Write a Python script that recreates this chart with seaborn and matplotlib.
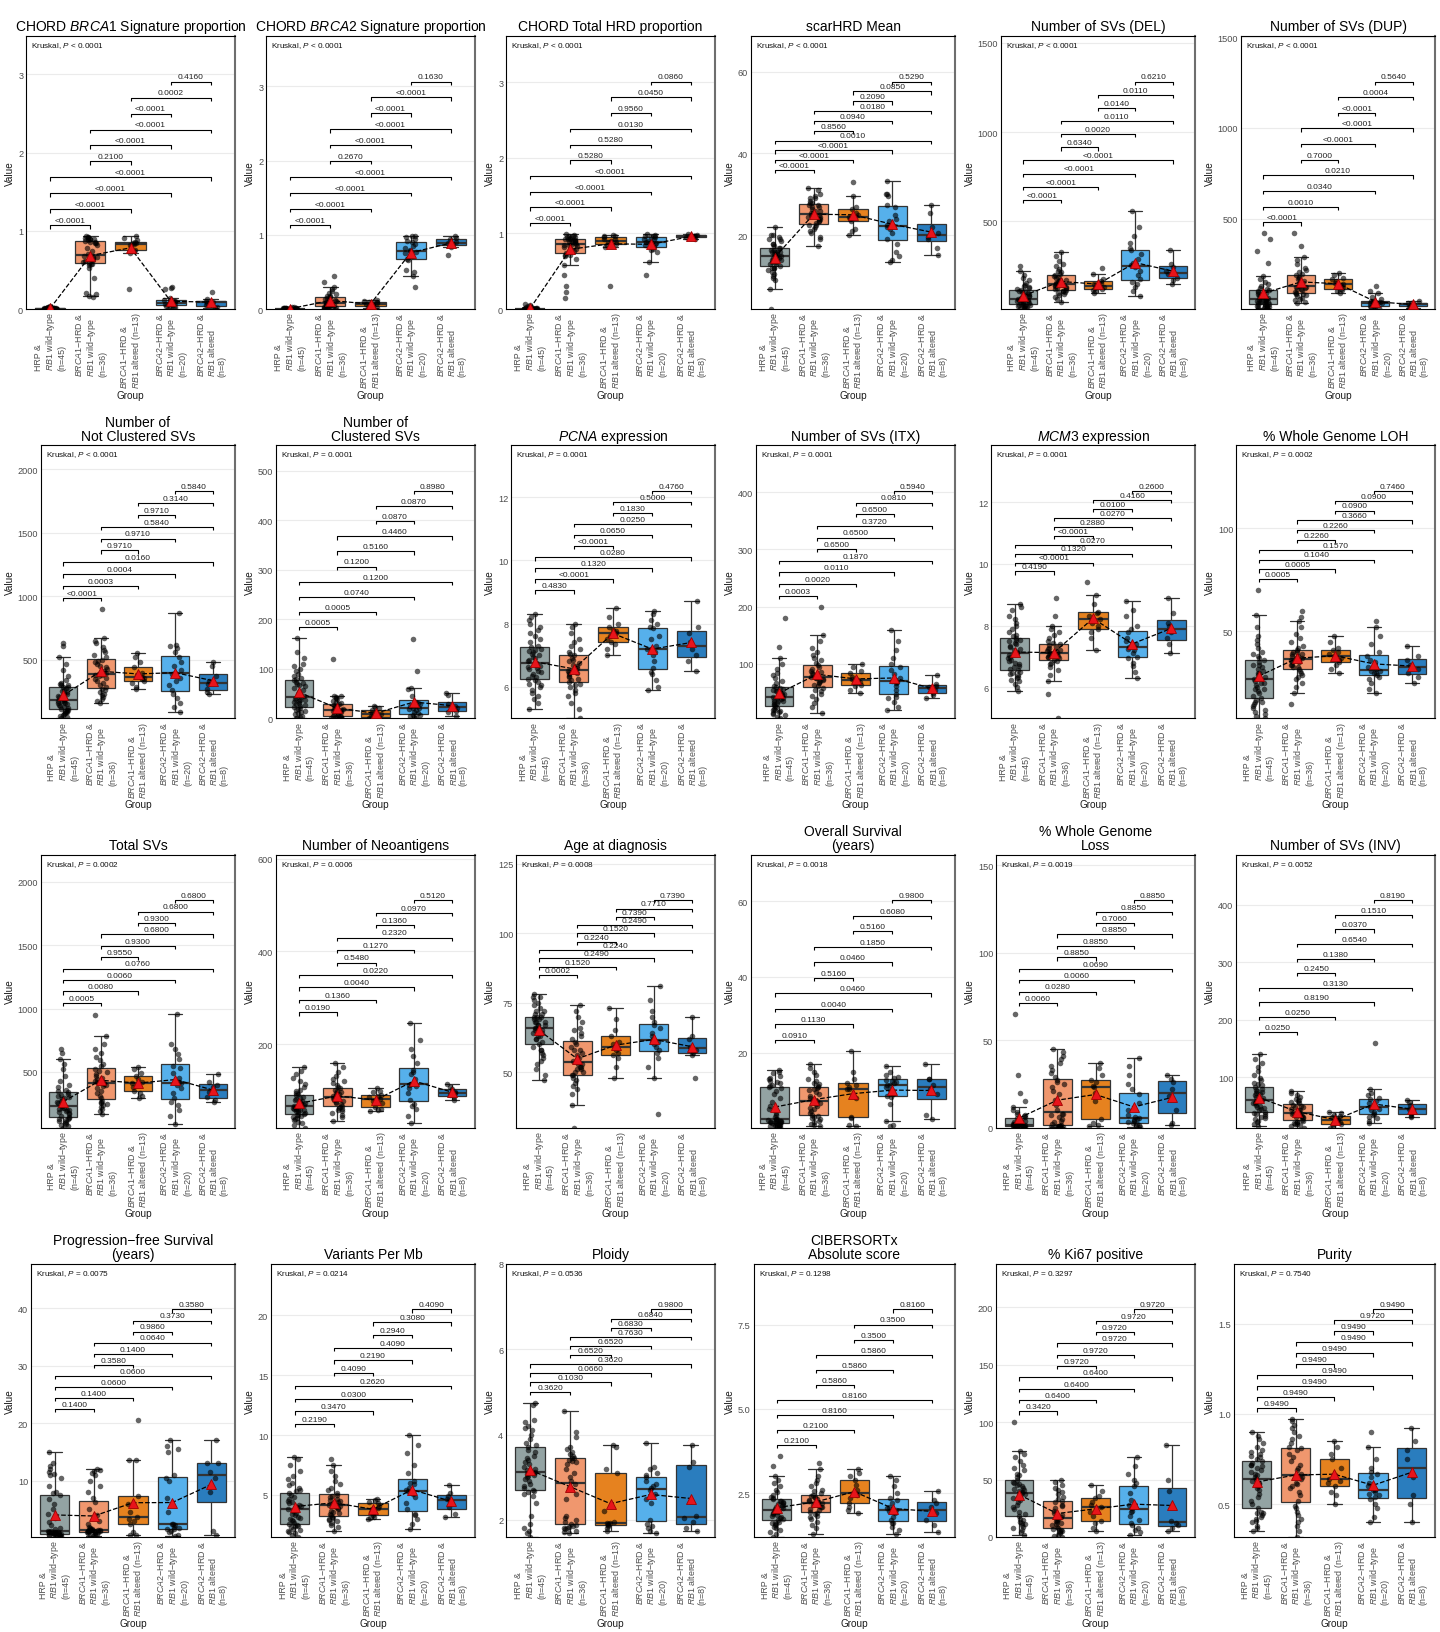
import numpy as np
import pandas as pd
import matplotlib
matplotlib.use("Agg")
import matplotlib.pyplot as plt
import seaborn as sns

np.random.seed(7)

# ---- groups -------------------------------------------------------------
group_keys = ["HRP_wt", "BRCA1_wt", "BRCA1_alt", "BRCA2_wt", "BRCA2_alt"]
group_sizes = [45, 36, 13, 20, 8]
group_labels = [
    "HRP &\n$\\it{RB1}$ wild\u2212type\n(n=45)",
    "$\\it{BRCA1}$\u2212HRD &\n$\\it{RB1}$ wild\u2212type\n(n=36)",
    "$\\it{BRCA1}$\u2212HRD &\n$\\it{RB1}$ altered (n=13)",
    "$\\it{BRCA2}$\u2212HRD &\n$\\it{RB1}$ wild\u2212type\n(n=20)",
    "$\\it{BRCA2}$\u2212HRD &\n$\\it{RB1}$ altered\n(n=8)",
]
group_colors = ["#93A3A3", "#F0976E", "#E6821F", "#56B0EB", "#2A7DBE"]
pairs = [(0, 1), (0, 2), (0, 3), (0, 4), (1, 2), (1, 3), (1, 4), (2, 3), (2, 4), (3, 4)]

# ---- per-sample values (one list per group) ------------------------------
chord_brca1 = [
    [0.000, 0.002, 0.001, 0.004, 0.000, 0.003, 0.006, 0.001, 0.000, 0.005,
     0.002, 0.008, 0.000, 0.004, 0.010, 0.001, 0.003, 0.007, 0.000, 0.012,
     0.002, 0.005, 0.015, 0.001, 0.009, 0.000, 0.004, 0.018, 0.003, 0.006,
     0.011, 0.000, 0.002, 0.022, 0.008, 0.001, 0.014, 0.005, 0.025, 0.003,
     0.000, 0.030, 0.007, 0.020, 0.035],
    [0.15, 0.17, 0.19, 0.20, 0.40, 0.52, 0.56, 0.57, 0.58, 0.59,
     0.60, 0.62, 0.63, 0.64, 0.65, 0.66, 0.67, 0.68, 0.70, 0.74,
     0.78, 0.82, 0.84, 0.85, 0.86, 0.86, 0.87, 0.88, 0.89, 0.90,
     0.90, 0.91, 0.91, 0.92, 0.92, 0.93],
    [0.25, 0.72, 0.74, 0.75, 0.79, 0.82, 0.83, 0.84, 0.85, 0.86, 0.88, 0.91, 0.93],
    [0.00, 0.01, 0.02, 0.03, 0.04, 0.05, 0.06, 0.07, 0.08, 0.08,
     0.08, 0.09, 0.10, 0.10, 0.11, 0.12, 0.14, 0.26, 0.27, 0.28],
    [0.01, 0.02, 0.05, 0.08, 0.09, 0.10, 0.13, 0.22],
]
chord_brca2 = [
    [0.001, 0.000, 0.003, 0.000, 0.002, 0.005, 0.000, 0.001, 0.004, 0.000,
     0.002, 0.006, 0.001, 0.000, 0.003, 0.008, 0.000, 0.002, 0.001, 0.010,
     0.000, 0.004, 0.002, 0.012, 0.001, 0.000, 0.003, 0.006, 0.015, 0.000,
     0.002, 0.001, 0.009, 0.000, 0.004, 0.018, 0.002, 0.000, 0.007, 0.001,
     0.011, 0.000, 0.025, 0.003, 0.030],
    [0.00, 0.00, 0.01, 0.01, 0.02, 0.02, 0.02, 0.03, 0.03, 0.04,
     0.04, 0.05, 0.05, 0.06, 0.06, 0.06, 0.07, 0.07, 0.08, 0.09,
     0.10, 0.11, 0.12, 0.13, 0.14, 0.15, 0.16, 0.17, 0.18, 0.20,
     0.22, 0.24, 0.27, 0.30, 0.37, 0.44],
    [0.01, 0.02, 0.03, 0.04, 0.05, 0.06, 0.07, 0.08, 0.09, 0.10, 0.10, 0.11, 0.12],
    [0.29, 0.45, 0.50, 0.53, 0.66, 0.68, 0.72, 0.75, 0.77, 0.78,
     0.79, 0.82, 0.85, 0.88, 0.90, 0.91, 0.95, 0.97, 0.98, 0.99],
    [0.73, 0.84, 0.87, 0.89, 0.90, 0.94, 0.96, 0.98],
]
chord_hrd = [
    [0.000, 0.001, 0.000, 0.002, 0.000, 0.004, 0.001, 0.000, 0.003, 0.000,
     0.002, 0.005, 0.000, 0.001, 0.007, 0.000, 0.003, 0.002, 0.000, 0.009,
     0.001, 0.000, 0.004, 0.012, 0.000, 0.002, 0.006, 0.001, 0.000, 0.015,
     0.003, 0.000, 0.008, 0.002, 0.020, 0.001, 0.000, 0.005, 0.030, 0.002,
     0.010, 0.040, 0.001, 0.050, 0.060],
    [0.15, 0.22, 0.30, 0.45, 0.58, 0.66, 0.70, 0.72, 0.72, 0.74,
     0.77, 0.79, 0.80, 0.82, 0.83, 0.84, 0.85, 0.85, 0.86, 0.87,
     0.88, 0.89, 0.90, 0.90, 0.91, 0.91, 0.92, 0.93, 0.93, 0.94,
     0.95, 0.95, 0.96, 0.97, 0.98, 0.99],
    [0.30, 0.82, 0.85, 0.86, 0.88, 0.89, 0.90, 0.92, 0.93, 0.95, 0.96, 0.97, 0.98],
    [0.45, 0.62, 0.75, 0.78, 0.80, 0.82, 0.84, 0.86, 0.87, 0.88,
     0.88, 0.90, 0.92, 0.93, 0.95, 0.95, 0.96, 0.97, 0.98, 0.99],
    [0.92, 0.94, 0.95, 0.96, 0.96, 0.97, 0.98, 0.99],
]
scarhrd = [
    [2, 7, 9, 9.5, 10, 10.5, 11, 11.5, 12, 12,
     12, 12.5, 13, 13, 13.5, 13.5, 14, 14, 14, 14.5,
     14.5, 14.5, 15, 15, 15, 15.5, 15.5, 16, 16, 16,
     16, 16.5, 16.5, 17, 17, 17.5, 18, 18, 18.5, 19,
     19, 19.5, 20, 20, 22],
    [17.5, 19, 19.5, 20.5, 21, 21.5, 22, 22.5, 22.5, 23,
     23.5, 23.5, 24, 24, 24.5, 24.5, 25, 25, 25.5, 25.5,
     26, 26, 26.5, 27, 27, 27.5, 27.5, 28, 28, 28.5,
     29, 29, 29.5, 30, 31, 31.5],
    [20, 21, 21.5, 23.5, 24, 24.2, 24.5, 25, 25.5, 26.5, 27, 29.5, 33],
    [13.5, 14, 15, 16, 18, 19, 20.5, 21.5, 22, 22.3,
     22.5, 23.5, 24, 25, 27, 27.5, 29.5, 30, 30, 33.3],
    [15.2, 17, 19, 19.5, 20.5, 22, 25.5, 27.5],
]
sv_del = [
    [10, 14, 18, 20, 22, 25, 28, 30, 32, 34,
     35, 38, 42, 45, 48, 52, 55, 58, 60, 62,
     64, 65, 68, 72, 76, 80, 85, 90, 95, 100,
     104, 108, 110, 115, 120, 128, 135, 140, 145, 155,
     170, 185, 200, 220, 250],
    [50, 65, 78, 88, 95, 100, 105, 108, 110, 115,
     120, 125, 130, 135, 140, 143, 147, 150, 155, 160,
     165, 170, 175, 182, 188, 194, 200, 208, 215, 225,
     235, 248, 262, 280, 305, 330],
    [100, 108, 115, 120, 130, 135, 140, 148, 155, 165, 180, 205, 240],
    [80, 110, 135, 150, 160, 180, 200, 225, 245, 250,
     255, 270, 290, 320, 340, 350, 380, 420, 470, 560],
    [150, 170, 185, 205, 220, 245, 260, 340],
]
sv_dup = [
    [5, 6, 8, 10, 12, 15, 18, 20, 22, 25,
     28, 32, 34, 36, 38, 40, 42, 45, 48, 50,
     52, 54, 56, 60, 64, 68, 72, 76, 80, 85,
     90, 95, 100, 105, 112, 120, 130, 140, 150, 165,
     184, 257, 320, 390, 420],
    [35, 42, 50, 58, 65, 72, 78, 83, 87, 92,
     98, 104, 110, 115, 119, 123, 126, 129, 133, 140,
     146, 152, 158, 165, 172, 180, 190, 196, 205, 215,
     230, 250, 270, 290, 350, 420],
    [90, 100, 108, 115, 125, 132, 139, 145, 155, 165, 175, 190, 200],
    [2, 5, 8, 12, 16, 20, 25, 30, 34, 37,
     38, 40, 42, 44, 46, 55, 70, 90, 100, 130],
    [10, 15, 20, 25, 30, 33, 37, 45],
]
sv_not_clustered = [
    [40, 50, 60, 65, 72, 80, 86, 92, 98, 102,
     104, 110, 120, 130, 138, 145, 152, 158, 164, 170,
     175, 178, 185, 195, 205, 215, 225, 235, 245, 255,
     265, 275, 284, 290, 300, 305, 310, 320, 340, 370,
     420, 470, 521, 610, 630],
    [160, 175, 190, 205, 220, 235, 250, 260, 268, 285,
     300, 320, 335, 350, 360, 370, 378, 383, 395, 410,
     425, 440, 455, 465, 480, 490, 500, 520, 540, 560,
     580, 600, 630, 650, 670, 900],
    [270, 285, 320, 335, 350, 360, 365, 380, 400, 445, 480, 520, 550],
    [90, 130, 160, 200, 235, 260, 300, 330, 360, 390,
     400, 420, 450, 480, 525, 560, 590, 610, 620, 870],
    [230, 250, 270, 310, 330, 370, 450, 480],
]
sv_clustered = [
    [0, 0, 2, 5, 8, 10, 12, 14, 16, 18,
     20, 22, 25, 27, 29, 31, 33, 35, 36, 37,
     38, 40, 43, 46, 50, 54, 58, 62, 65, 68,
     70, 72, 74, 78, 80, 82, 85, 90, 95, 100,
     105, 110, 122, 133, 162],
    [0, 0, 0, 1, 1, 2, 2, 3, 3, 5,
     7, 9, 10, 12, 13, 14, 15, 16, 17, 18,
     19, 20, 22, 24, 25, 27, 28, 30, 32, 35,
     38, 40, 42, 44, 45, 120],
    [0, 1, 2, 3, 5, 7, 8, 10, 13, 17, 20, 22, 24],
    [0, 2, 4, 6, 7, 10, 13, 16, 19, 20,
     21, 24, 28, 31, 33, 45, 60, 62, 95, 160],
    [5, 12, 15, 20, 24, 28, 48, 52],
]
pcna_expr = [
    [5.3, 5.5, 5.6, 5.7, 5.8, 5.9, 6.0, 6.05, 6.1, 6.15,
     6.2, 6.25, 6.3, 6.35, 6.4, 6.45, 6.5, 6.55, 6.6, 6.62,
     6.65, 6.7, 6.75, 6.8, 6.85, 6.9, 6.95, 7.0, 7.05, 7.1,
     7.12, 7.15, 7.2, 7.25, 7.3, 7.4, 7.5, 7.6, 7.7, 7.8,
     7.9, 8.0, 8.1, 8.2, 8.3],
    [5.0, 5.3, 5.5, 5.7, 5.8, 5.9, 6.0, 6.05, 6.1, 6.15,
     6.2, 6.25, 6.3, 6.35, 6.4, 6.42, 6.46, 6.5, 6.55, 6.6,
     6.65, 6.7, 6.75, 6.8, 6.85, 6.9, 7.0, 7.05, 7.1, 7.2,
     7.3, 7.4, 7.5, 7.7, 7.9, 8.0],
    [7.0, 7.2, 7.35, 7.4, 7.5, 7.6, 7.7, 7.75, 7.8, 7.9, 8.0, 8.2, 8.5],
    [5.9, 6.0, 6.2, 6.4, 6.45, 6.6, 6.8, 7.0, 7.1, 7.2,
     7.2, 7.3, 7.5, 7.6, 7.85, 7.9, 8.0, 8.1, 8.3, 8.4],
    [6.5, 6.8, 7.0, 7.2, 7.4, 7.7, 7.9, 8.7],
]
sv_itx = [
    [5, 8, 10, 12, 14, 16, 18, 19, 20, 22,
     24, 26, 28, 30, 31, 33, 35, 36, 37, 38,
     40, 41, 42, 44, 45, 47, 48, 50, 52, 53,
     55, 56, 58, 60, 62, 66, 70, 75, 80, 85,
     92, 100, 110, 130, 180],
    [15, 25, 32, 38, 44, 48, 52, 55, 58, 61,
     64, 66, 68, 70, 72, 73, 75, 76, 78, 80,
     82, 84, 86, 88, 91, 95, 98, 102, 106, 110,
     115, 120, 128, 140, 150, 200],
    [50, 55, 61, 64, 68, 70, 72, 74, 78, 85, 88, 95, 100],
    [20, 25, 33, 40, 43, 48, 55, 62, 67, 69,
     70, 75, 82, 90, 95, 100, 110, 125, 140, 160],
    [40, 45, 50, 55, 60, 62, 65, 80],
]
mcm3_expr = [
    [5.9, 6.0, 6.1, 6.2, 6.25, 6.3, 6.35, 6.4, 6.45, 6.48,
     6.5, 6.55, 6.6, 6.65, 6.7, 6.75, 6.8, 6.85, 6.9, 6.95,
     7.0, 7.05, 7.1, 7.15, 7.2, 7.25, 7.3, 7.35, 7.4, 7.45,
     7.5, 7.52, 7.55, 7.6, 7.65, 7.7, 7.8, 7.9, 8.0, 8.1,
     8.2, 8.3, 8.5, 8.6, 8.7],
    [5.0, 5.8, 6.2, 6.4, 6.55, 6.65, 6.75, 6.8, 6.85, 6.9,
     6.95, 6.97, 7.0, 7.02, 7.05, 7.07, 7.08, 7.1, 7.12, 7.15,
     7.18, 7.2, 7.25, 7.28, 7.32, 7.36, 7.4, 7.45, 7.5, 7.6,
     7.7, 7.8, 7.9, 8.0, 8.3, 8.9],
    [7.2, 7.6, 7.8, 7.9, 8.0, 8.1, 8.2, 8.3, 8.4, 8.45, 8.7, 9.0, 9.4],
    [6.3, 6.5, 6.7, 6.8, 6.95, 7.0, 7.1, 7.2, 7.25, 7.3,
     7.3, 7.4, 7.5, 7.6, 7.8, 7.9, 8.0, 8.3, 8.5, 8.8],
    [7.1, 7.4, 7.6, 7.8, 8.0, 8.1, 8.4, 8.9],
]
wg_loh = [
    [8, 9, 10, 11, 12, 13, 14, 15, 16, 16,
     17, 18, 19, 20, 21, 22, 22, 23, 24, 25,
     25, 26, 27, 28, 29, 30, 30, 31, 32, 33,
     34, 34, 35, 36, 37, 38, 39, 40, 42, 44,
     46, 48, 52, 58, 70],
    [15, 20, 23, 25, 27, 28, 29, 30, 31, 32,
     33, 33, 34, 34, 35, 35, 36, 36, 37, 37,
     38, 38, 39, 39, 40, 40, 41, 42, 43, 45,
     47, 49, 52, 55, 57, 60],
    [30, 32, 34, 35, 36, 37, 38, 39, 40, 41, 42, 45, 48],
    [20, 22, 25, 27, 28, 29, 30, 30, 31, 31,
     32, 33, 35, 36, 38, 40, 44, 48, 52, 55],
    [25, 28, 30, 32, 34, 36, 38, 43],
]
sv_total = [
    [60, 70, 80, 88, 95, 102, 110, 118, 124, 130,
     135, 145, 155, 165, 172, 180, 188, 195, 200, 206,
     212, 218, 228, 240, 252, 262, 272, 282, 292, 300,
     310, 318, 326, 340, 350, 360, 380, 400, 430, 470,
     520, 560, 600, 650, 680],
    [170, 190, 205, 220, 235, 245, 255, 262, 268, 290,
     310, 330, 350, 370, 385, 395, 402, 410, 420, 430,
     440, 455, 465, 480, 495, 510, 525, 545, 565, 590,
     620, 650, 680, 720, 780, 950],
    [290, 310, 334, 350, 380, 395, 410, 420, 440, 467, 490, 520, 540],
    [90, 150, 200, 240, 260, 290, 330, 370, 400, 410,
     420, 450, 490, 530, 550, 600, 640, 680, 720, 960],
    [260, 280, 300, 340, 380, 400, 420, 480],
]
neoantigens = [
    [20, 25, 30, 33, 36, 39, 41, 43, 45, 47,
     48, 50, 52, 54, 55, 57, 58, 59, 60, 61,
     62, 64, 66, 68, 70, 72, 74, 76, 78, 80,
     82, 84, 86, 90, 92, 94, 98, 102, 108, 114,
     120, 128, 135, 142, 150],
    [35, 42, 48, 52, 55, 58, 60, 62, 64, 67,
     70, 73, 75, 77, 79, 81, 83, 84, 86, 88,
     90, 92, 94, 96, 99, 102, 105, 108, 112, 116,
     120, 125, 132, 140, 150, 160],
    [55, 57, 60, 65, 72, 78, 82, 85, 88, 91, 96, 100, 105],
    [30, 45, 60, 66, 70, 80, 95, 105, 110, 112,
     115, 125, 135, 140, 145, 160, 175, 190, 210, 245],
    [80, 85, 90, 94, 97, 103, 108, 115],
]
age_dx = [
    [47, 49, 51, 53, 54, 55, 56, 57, 58, 58,
     59, 60, 61, 62, 62, 63, 63, 64, 64, 65,
     65, 66, 66, 67, 67, 67, 68, 68, 68, 69,
     69, 70, 70, 70, 71, 71, 72, 72, 73, 74,
     75, 76, 77, 77, 78],
    [30, 38, 42, 44, 45, 46, 47, 48, 49, 49,
     50, 50, 51, 51, 52, 52, 53, 53, 54, 55,
     56, 57, 58, 58, 59, 60, 61, 62, 63, 64,
     65, 66, 68, 70, 72, 74],
    [48, 52, 55, 56, 57, 58, 59, 60, 61, 63, 65, 69, 73],
    [35, 48, 52, 55, 57, 58, 59, 60, 61, 61,
     62, 63, 64, 66, 67, 68, 70, 72, 76, 81],
    [48, 56, 57, 58, 59, 62, 63, 70],
]
os_years = [
    [0.2, 0.3, 0.4, 0.5, 0.6, 0.7, 0.8, 0.9, 1.0, 1.1,
     1.3, 1.4, 1.5, 1.6, 1.7, 1.8, 1.9, 2.0, 2.1, 2.2,
     2.3, 2.4, 2.6, 3.0, 3.5, 4.0, 5.0, 6.0, 7.0, 8.0,
     9.0, 9.8, 10.6, 11.0, 11.2, 11.5, 12.0, 12.3, 12.6, 13.0,
     13.3, 13.8, 14.5, 15.0, 15.5],
    [0.5, 0.8, 1.2, 1.6, 2.0, 2.4, 2.8, 3.1, 3.3, 3.6,
     4.0, 4.5, 5.0, 5.5, 6.0, 6.5, 6.8, 7.1, 7.5, 8.0,
     8.5, 9.0, 9.5, 10.0, 10.3, 10.6, 10.9, 11.2, 11.6, 12.0,
     12.5, 13.0, 14.0, 15.0, 16.0, 17.0],
    [0.5, 1.0, 2.7, 3.0, 8.0, 10.5, 10.5, 11.0, 11.5, 12.0, 13.0, 15.0, 20.5],
    [0.5, 1.0, 2.0, 6.5, 8.4, 8.6, 9.0, 10.0, 11.0, 11.5,
     11.5, 12.0, 12.3, 12.6, 12.9, 13.2, 13.5, 14.0, 15.0, 16.5],
    [2.5, 3.5, 9.0, 10.5, 11.5, 13.0, 13.0, 17.0],
]
wg_loss = [
    [0.0, 0.1, 0.2, 0.3, 0.3, 0.4, 0.4, 0.5, 0.5, 0.6,
     0.6, 0.7, 0.8, 0.9, 1.0, 1.0, 1.1, 1.2, 1.3, 1.4,
     1.5, 1.5, 1.7, 1.9, 2.1, 2.3, 2.6, 2.9, 3.2, 3.6,
     4.0, 4.5, 5.0, 5.5, 6.0, 6.5, 7.0, 8.0, 9.0, 10.0,
     12.0, 15.0, 20.0, 30.0, 65.0],
    [0.3, 0.5, 0.6, 0.7, 0.8, 0.9, 1.0, 1.1, 1.2, 1.5,
     2.0, 3.0, 4.0, 5.0, 6.0, 7.0, 7.5, 8.0, 10, 13,
     16, 19, 21, 23, 25, 26, 27, 29, 31, 33,
     35, 37, 39, 41, 43, 45],
    [1.0, 1.5, 2.4, 5, 15, 20, 23, 24, 26, 27, 30, 34, 37],
    [0.5, 0.8, 1.5, 2.0, 2.4, 3.0, 3.5, 4.5, 5.0, 5.4,
     5.8, 7.0, 10, 14, 19, 22, 25, 30, 35, 40],
    [1.5, 2.4, 10, 18, 22, 26, 28, 30],
]
sv_inv = [
    [15, 18, 21, 24, 27, 29, 31, 33, 35, 36,
     37, 40, 42, 44, 46, 48, 50, 52, 54, 55,
     57, 58, 60, 62, 64, 66, 68, 70, 72, 74,
     76, 78, 80, 83, 86, 88, 90, 94, 98, 103,
     110, 118, 125, 132, 140],
    [12, 14, 16, 18, 19, 20, 21, 22, 24, 26,
     28, 30, 31, 32, 33, 35, 36, 37, 38, 40,
     42, 43, 45, 47, 48, 50, 52, 54, 56, 58,
     60, 62, 65, 68, 72, 75],
    [12, 15, 18, 19, 21, 23, 25, 27, 30, 33, 34, 37, 40],
    [20, 24, 28, 31, 34, 36, 39, 42, 45, 47,
     48, 50, 54, 58, 61, 64, 68, 72, 80, 160],
    [30, 32, 36, 42, 45, 52, 56, 60],
]
pfs_years = [
    [0.2, 0.3, 0.35, 0.4, 0.45, 0.5, 0.55, 0.6, 0.62, 0.65,
     0.7, 0.75, 0.8, 0.85, 0.9, 0.92, 0.95, 1.0, 1.02, 1.05,
     1.08, 1.1, 1.2, 1.3, 1.5, 1.8, 2.2, 2.8, 3.5, 4.2,
     5.0, 6.0, 6.8, 7.5, 7.8, 8.0, 9.0, 10.5, 11.0, 11.2,
     11.5, 12.0, 12.5, 13.0, 15.0],
    [0.3, 0.5, 0.6, 0.7, 0.8, 0.9, 1.0, 1.05, 1.1, 1.15,
     1.2, 1.25, 1.3, 1.3, 1.35, 1.35, 1.4, 1.4, 1.5, 1.6,
     1.8, 2.0, 2.5, 3.0, 4.0, 5.0, 6.3, 7.0, 8.0, 9.0,
     10.0, 11.0, 11.3, 11.6, 11.8, 12.0],
    [0.5, 0.6, 1.0, 2.5, 3.0, 3.3, 3.6, 4.5, 6.0, 7.3, 13.5, 13.5, 20.6],
    [0.3, 0.6, 1.0, 1.2, 1.5, 1.6, 1.8, 2.0, 2.2, 2.4,
     2.5, 4.5, 7.0, 10.0, 10.5, 11.0, 15.0, 15.5, 16.0, 17.0],
    [0.5, 1.2, 8.0, 10.5, 11.5, 13.0, 13.0, 17.0],
]
variants_mb = [
    [1.5, 1.7, 1.8, 1.9, 2.0, 2.1, 2.2, 2.3, 2.4, 2.45,
     2.5, 2.6, 2.7, 2.8, 2.9, 3.0, 3.1, 3.2, 3.3, 3.4,
     3.5, 3.7, 3.8, 3.9, 4.0, 4.1, 4.2, 4.3, 4.4, 4.5,
     4.7, 4.8, 5.0, 5.2, 5.3, 5.4, 5.6, 5.8, 6.0, 6.3,
     6.6, 7.0, 7.5, 8.0, 8.2],
    [2.0, 2.3, 2.5, 2.7, 2.8, 2.9, 3.0, 3.1, 3.2, 3.3,
     3.4, 3.5, 3.6, 3.7, 3.8, 3.9, 4.0, 4.1, 4.2, 4.3,
     4.4, 4.5, 4.6, 4.7, 4.8, 4.9, 5.0, 5.2, 5.4, 5.6,
     5.9, 6.2, 6.6, 7.0, 7.5, 8.0],
    [3.0, 3.1, 3.2, 3.3, 3.5, 3.6, 3.8, 3.9, 4.1, 4.3, 4.4, 4.6, 4.7],
    [2.2, 2.6, 3.0, 3.3, 3.4, 3.8, 4.3, 4.8, 5.1, 5.3,
     5.4, 5.6, 5.9, 6.0, 6.2, 6.8, 7.5, 8.5, 9.2, 10.0],
    [3.2, 3.4, 4.0, 4.5, 4.7, 4.9, 5.2, 5.8],
]
ploidy = [
    [1.6, 1.7, 1.75, 1.8, 1.9, 2.1, 2.4, 2.55, 2.6, 2.65,
     2.67, 2.7, 2.75, 2.8, 2.85, 2.9, 2.95, 3.0, 3.02, 3.05,
     3.07, 3.09, 3.12, 3.16, 3.2, 3.25, 3.3, 3.35, 3.4, 3.45,
     3.5, 3.58, 3.64, 3.7, 3.75, 3.8, 3.9, 4.0, 4.1, 4.15,
     4.2, 4.3, 4.35, 4.7, 4.75],
    [1.7, 1.72, 1.75, 1.78, 1.8, 1.82, 1.84, 1.85, 1.87, 1.9,
     1.95, 2.0, 2.05, 2.1, 2.5, 2.6, 2.75, 2.84, 2.9, 3.0,
     3.1, 3.2, 3.3, 3.35, 3.38, 3.4, 3.44, 3.45, 3.5, 3.55,
     3.6, 3.65, 3.7, 3.95, 4.05, 4.55],
    [1.75, 1.8, 1.85, 1.88, 1.9, 1.92, 1.92, 1.95, 2.2, 3.1, 3.2, 3.7, 3.75],
    [1.7, 1.75, 1.8, 1.85, 1.9, 2.0, 2.4, 2.5, 2.6, 2.7,
     2.75, 2.8, 2.85, 2.9, 3.0, 3.05, 3.1, 3.2, 3.25, 3.8],
    [1.75, 1.8, 1.95, 2.05, 2.1, 3.25, 3.35, 3.75],
]
cibersort_abs = [
    [1.2, 1.3, 1.35, 1.4, 1.45, 1.5, 1.55, 1.58, 1.6, 1.62,
     1.65, 1.7, 1.73, 1.76, 1.8, 1.83, 1.86, 1.89, 1.91, 1.93,
     1.95, 1.97, 2.0, 2.03, 2.06, 2.09, 2.12, 2.15, 2.18, 2.2,
     2.23, 2.26, 2.28, 2.32, 2.35, 2.38, 2.45, 2.52, 2.6, 2.7,
     2.8, 2.9, 3.0, 3.3, 3.6],
    [1.3, 1.45, 1.55, 1.65, 1.72, 1.78, 1.83, 1.87, 1.9, 1.95,
     2.0, 2.04, 2.08, 2.1, 2.13, 2.16, 2.18, 2.2, 2.22, 2.25,
     2.28, 2.3, 2.33, 2.36, 2.38, 2.41, 2.44, 2.5, 2.55, 2.6,
     2.7, 2.8, 2.9, 3.0, 3.2, 3.4],
    [1.9, 2.0, 2.1, 2.2, 2.35, 2.44, 2.5, 2.6, 2.75, 2.9, 3.0, 3.1, 3.2],
    [1.3, 1.4, 1.5, 1.6, 1.62, 1.7, 1.8, 1.9, 1.95, 1.97,
     2.0, 2.05, 2.1, 2.2, 2.3, 2.35, 2.5, 2.7, 2.9, 3.0],
    [1.35, 1.55, 1.7, 1.9, 2.1, 2.2, 2.3, 2.55],
]
ki67_pct = [
    [2, 4, 6, 8, 9, 10, 11, 12, 13, 15,
     16, 18, 20, 22, 24, 26, 28, 30, 32, 34,
     35, 37, 38, 39, 40, 41, 42, 43, 44, 45,
     46, 47, 48, 50, 52, 54, 55, 58, 60, 63,
     66, 70, 72, 75, 100],
    [0, 1, 2, 3, 4, 5, 5, 6, 7, 8,
     9, 10, 11, 12, 13, 14, 15, 16, 17, 19,
     21, 23, 25, 27, 28, 30, 31, 33, 35, 37,
     39, 41, 43, 45, 48, 50],
    [5, 8, 12, 14, 18, 22, 26, 28, 30, 34, 36, 40, 45],
    [2, 4, 6, 8, 10, 12, 15, 18, 22, 23,
     25, 28, 32, 38, 44, 47, 50, 55, 62, 70],
    [5, 8, 10, 12, 14, 40, 50, 80],
]
purity = [
    [0.35, 0.37, 0.38, 0.4, 0.41, 0.42, 0.43, 0.44, 0.45, 0.45,
     0.46, 0.48, 0.5, 0.52, 0.54, 0.56, 0.58, 0.59, 0.6, 0.61,
     0.62, 0.63, 0.64, 0.65, 0.66, 0.67, 0.68, 0.69, 0.7, 0.71,
     0.72, 0.72, 0.73, 0.74, 0.75, 0.76, 0.77, 0.78, 0.79, 0.8,
     0.82, 0.84, 0.86, 0.88, 0.9],
    [0.32, 0.35, 0.38, 0.4, 0.42, 0.44, 0.46, 0.48, 0.49, 0.52,
     0.55, 0.57, 0.59, 0.6, 0.61, 0.62, 0.64, 0.65, 0.67, 0.69,
     0.7, 0.72, 0.74, 0.76, 0.78, 0.8, 0.81, 0.82, 0.84, 0.86,
     0.88, 0.9, 0.92, 0.94, 0.96, 0.97],
    [0.5, 0.55, 0.57, 0.6, 0.62, 0.63, 0.64, 0.66, 0.7, 0.75, 0.78, 0.82, 0.85],
    [0.4, 0.43, 0.48, 0.5, 0.53, 0.54, 0.55, 0.56, 0.57, 0.58,
     0.58, 0.6, 0.62, 0.65, 0.67, 0.68, 0.7, 0.75, 0.82, 0.9],
    [0.4, 0.5, 0.55, 0.65, 0.75, 0.8, 0.85, 0.92],
]

# ---- pairwise Wilcoxon p-values, in the order of `pairs` -----------------
LT = "<0.0001"
chord_brca1_p = [LT, LT, LT, LT, "0.2100", LT, LT, LT, "0.0002", "0.4160"]
chord_brca2_p = [LT, LT, LT, LT, "0.2670", LT, LT, LT, LT, "0.1630"]
chord_hrd_p = [LT, LT, LT, LT, "0.5280", "0.5280", "0.0130", "0.9560", "0.0450", "0.0860"]
scarhrd_p = [LT, LT, LT, "0.0010", "0.8560", "0.0940", "0.0180", "0.2090", "0.0850", "0.5290"]
sv_del_p = [LT, LT, LT, LT, "0.6340", "0.0020", "0.0110", "0.0140", "0.0110", "0.6210"]
sv_dup_p = [LT, "0.0010", "0.0340", "0.0210", "0.7000", LT, LT, LT, "0.0004", "0.5640"]
sv_not_clustered_p = [LT, "0.0003", "0.0004", "0.0160", "0.9710", "0.9710", "0.5840", "0.9710", "0.3140", "0.5840"]
sv_clustered_p = ["0.0005", "0.0005", "0.0740", "0.1200", "0.1200", "0.5160", "0.4460", "0.0870", "0.0870", "0.8980"]
pcna_expr_p = ["0.4830", LT, "0.1320", "0.0280", LT, "0.0650", "0.0250", "0.1830", "0.5000", "0.4760"]
sv_itx_p = ["0.0003", "0.0020", "0.0110", "0.1870", "0.6500", "0.6500", "0.3720", "0.6500", "0.0810", "0.5940"]
mcm3_expr_p = ["0.4190", LT, "0.1320", "0.0270", LT, "0.2880", "0.0270", "0.0100", "0.4160", "0.2600"]
wg_loh_p = ["0.0005", "0.0005", "0.1040", "0.1570", "0.2260", "0.2260", "0.3660", "0.0900", "0.0900", "0.7460"]
sv_total_p = ["0.0005", "0.0080", "0.0060", "0.0760", "0.9550", "0.9300", "0.6800", "0.9300", "0.6800", "0.6800"]
neoantigens_p = ["0.0190", "0.1360", "0.0040", "0.0220", "0.5480", "0.1270", "0.2320", "0.1360", "0.0970", "0.5120"]
age_dx_p = ["0.0002", "0.1520", "0.2490", "0.2240", "0.2240", "0.1520", "0.2490", "0.7390", "0.7710", "0.7390"]
os_years_p = ["0.0910", "0.1130", "0.0040", "0.0460", "0.5160", "0.0460", "0.1850", "0.5160", "0.6080", "0.9800"]
wg_loss_p = ["0.0060", "0.0280", "0.0060", "0.0690", "0.8850", "0.8850", "0.8850", "0.7060", "0.8850", "0.8850"]
sv_inv_p = ["0.0250", "0.0250", "0.8190", "0.3130", "0.2450", "0.1380", "0.6540", "0.0370", "0.1510", "0.8190"]
pfs_years_p = ["0.1400", "0.1400", "0.0600", "0.0600", "0.3580", "0.1400", "0.0640", "0.9860", "0.3730", "0.3580"]
variants_mb_p = ["0.2190", "0.3470", "0.0300", "0.2620", "0.4090", "0.2190", "0.4090", "0.2940", "0.3080", "0.4090"]
ploidy_p = ["0.3620", "0.1030", "0.0660", "0.3620", "0.6520", "0.6520", "0.7630", "0.6830", "0.6840", "0.9800"]
cibersort_abs_p = ["0.2100", "0.2100", "0.8160", "0.8160", "0.5860", "0.5860", "0.5860", "0.3500", "0.3500", "0.8160"]
ki67_pct_p = ["0.3420", "0.6400", "0.6400", "0.6400", "0.9720", "0.9720", "0.9720", "0.9720", "0.9720", "0.9720"]
purity_p = ["0.9490", "0.9490", "0.9490", "0.9490", "0.9490", "0.9490", "0.9490", "0.9490", "0.9720", "0.9490"]

# ---- panel definitions: data, title, Kruskal-Wallis result, axis setup ----
panels = [
    (chord_brca1, chord_brca1_p, "CHORD $\\it{BRCA1}$ Signature proportion", "< 0.0001", 3.49, 1, "%d"),
    (chord_brca2, chord_brca2_p, "CHORD $\\it{BRCA2}$ Signature proportion", "< 0.0001", 3.68, 1, "%d"),
    (chord_hrd, chord_hrd_p, "CHORD Total HRD proportion", "< 0.0001", 3.61, 1, "%d"),
    (scarhrd, scarhrd_p, "scarHRD Mean", "< 0.0001", 68.7, 20, "%d"),
    (sv_del, sv_del_p, "Number of SVs (DEL)", "< 0.0001", 1538, 500, "%d"),
    (sv_dup, sv_dup_p, "Number of SVs (DUP)", "< 0.0001", 1507, 500, "%d"),
    (sv_not_clustered, sv_not_clustered_p, "Number of\nNot Clustered SVs", "< 0.0001", 2188, 500, "%d"),
    (sv_clustered, sv_clustered_p, "Number of\nClustered SVs", "= 0.0001", 551, 100, "%d"),
    (pcna_expr, pcna_expr_p, "$\\it{PCNA}$ expression", "= 0.0001", 13.64, 2, "%d"),
    (sv_itx, sv_itx_p, "Number of SVs (ITX)", "= 0.0001", 482, 100, "%d"),
    (mcm3_expr, mcm3_expr_p, "$\\it{MCM3}$ expression", "= 0.0001", 13.84, 2, "%d"),
    (wg_loh, wg_loh_p, "% Whole Genome LOH", "= 0.0002", 140, 50, "%d"),
    (sv_total, sv_total_p, "Total SVs", "= 0.0002", 2215, 500, "%d"),
    (neoantigens, neoantigens_p, "Number of Neoantigens", "= 0.0006", 609, 200, "%d"),
    (age_dx, age_dx_p, "Age at diagnosis", "= 0.0008", 128.3, 25, "%d"),
    (os_years, os_years_p, "Overall Survival\n(years)", "= 0.0018", 72.3, 20, "%d"),
    (wg_loss, wg_loss_p, "% Whole Genome\nLoss", "= 0.0019", 156, 50, "%d"),
    (sv_inv, sv_inv_p, "Number of SVs (INV)", "= 0.0052", 487, 100, "%d"),
    (pfs_years, pfs_years_p, "Progression\u2212free Survival\n(years)", "= 0.0075", 47.7, 10, "%d"),
    (variants_mb, variants_mb_p, "Variants Per Mb", "= 0.0214", 24.3, 5, "%d"),
    (ploidy, ploidy_p, "Ploidy", "= 0.0536", 8.0, 2, "%d"),
    (cibersort_abs, cibersort_abs_p, "CIBERSORTx\nAbsolute score", "= 0.1298", 9.3, 2.5, "%.1f"),
    (ki67_pct, ki67_pct_p, "% Ki67 positive", "= 0.3297", 238, 50, "%d"),
    (purity, purity_p, "Purity", "= 0.7540", 1.83, 0.5, "%.1f"),
]

for groups, *_ in panels:
    if [len(g) for g in groups] != group_sizes:
        raise ValueError("group sizes do not match the (n=...) labels")

# ---- styling ---------------------------------------------------------------
sns.set_theme(style="white")
plt.rcParams["font.family"] = ["Liberation Sans", "DejaVu Sans"]
plt.rcParams["mathtext.fontset"] = "custom"
plt.rcParams["mathtext.rm"] = "Liberation Sans"
plt.rcParams["mathtext.it"] = "Liberation Sans:italic"
plt.rcParams["mathtext.bf"] = "Liberation Sans:bold"

W, H = 1440, 1633
fig = plt.figure(figsize=(W / 100, H / 100), dpi=100)
fig.patch.set_facecolor("white")


def label_px(s):
    return sum(2.5 if ch == "." else 5.0 for ch in s)


for i, (groups, pvals, title, kw, ytop, ystep, fmt) in enumerate(panels):
    row, col = divmod(i, 6)
    df = pd.DataFrame({
        "group": np.repeat(group_keys, [len(g) for g in groups]),
        "value": np.concatenate([np.asarray(g, dtype=float) for g in groups]),
    })
    lo = df["value"].min()
    rng = ytop - lo

    first = np.ceil(lo / ystep - 1e-9) * ystep
    ticks = np.arange(first, ytop + 1e-9, ystep)
    tlabels = [fmt % t for t in ticks]

    top_px = 37 + 409.3 * row
    bot_px = 310 + 409.3 * row
    right_px = 240 * (col + 1) - 5
    left_px = 240 * col + 21 + max(label_px(s) for s in tlabels)
    ax = fig.add_axes([left_px / W, 1 - bot_px / H,
                       (right_px - left_px) / W, (bot_px - top_px) / H])

    sns.boxplot(data=df, x="group", y="value", hue="group", order=group_keys,
                hue_order=group_keys, palette=group_colors, legend=False,
                width=0.75, showfliers=False, saturation=1, linecolor="#333333",
                linewidth=0.9, medianprops={"linewidth": 1.6}, ax=ax)
    sns.stripplot(data=df, x="group", y="value", order=group_keys, color="black",
                  alpha=0.6, size=4, jitter=0.17, linewidth=0, zorder=3, ax=ax)
    sns.pointplot(data=df, x="group", y="value", order=group_keys, errorbar=None,
                  color="black", linestyle="--", marker="", linewidth=0.9,
                  zorder=4, ax=ax)
    sns.pointplot(data=df, x="group", y="value", order=group_keys, errorbar=None,
                  color="#E8141B", linestyle="none", marker="^", markersize=6.5,
                  markeredgecolor="#A00000", markeredgewidth=0.6, zorder=5, ax=ax)

    # pairwise comparison brackets
    b_lo = df["value"].max() + 0.04 * rng
    b_hi = ytop - 0.167 * rng
    b_step = (b_hi - b_lo) / (len(pairs) - 1)
    tip = 0.012 * rng
    for k, ((a, b), p) in enumerate(zip(pairs, pvals)):
        yb = b_lo + k * b_step
        ax.plot([a, a, b, b], [yb - tip, yb, yb, yb - tip], color="black",
                lw=0.8, zorder=6, solid_capstyle="butt")
        ax.text((a + b) / 2, yb + 0.004 * rng, p, ha="center", va="bottom",
                fontsize=6.0, color="#222222", zorder=7)

    ax.text(0.025, 0.985, "Kruskal, $\\it{P}$ " + kw, transform=ax.transAxes,
            ha="left", va="top", fontsize=5.9, color="#111111")

    ax.set_xlim(-0.6, 4.6)
    ax.set_ylim(lo, ytop)
    ax.set_yticks(ticks)
    ax.set_yticklabels(tlabels)
    ax.set_xticks(range(5))
    ax.set_xticklabels(group_labels, rotation=90, ha="center", va="top",
                       multialignment="left", linespacing=1.05)
    ax.tick_params(axis="x", length=0, pad=2, labelsize=6.4, labelcolor="#4D4D4D")
    ax.tick_params(axis="y", length=0, pad=2, labelsize=6.6, labelcolor="#4D4D4D")

    ax.set_axisbelow(True)
    ax.yaxis.grid(True, color="#EBEBEB", linewidth=0.8)
    ax.xaxis.grid(False)
    for side, sp in ax.spines.items():
        sp.set_visible(True)
        sp.set_color("black")
        sp.set_linewidth(0.8)
    ax.spines["right"].set_color("#6E6E6E")
    ax.spines["right"].set_linewidth(1.5)

    ax.set_ylabel("Value", fontsize=7.2, labelpad=2, color="#1A1A1A")
    ax.set_xlabel("Group", fontsize=7.2, labelpad=1, color="#1A1A1A")
    ax.set_title(title, fontsize=10, pad=4, linespacing=1.0, color="black")

fig.savefig("out.png", dpi=100, facecolor="white")
